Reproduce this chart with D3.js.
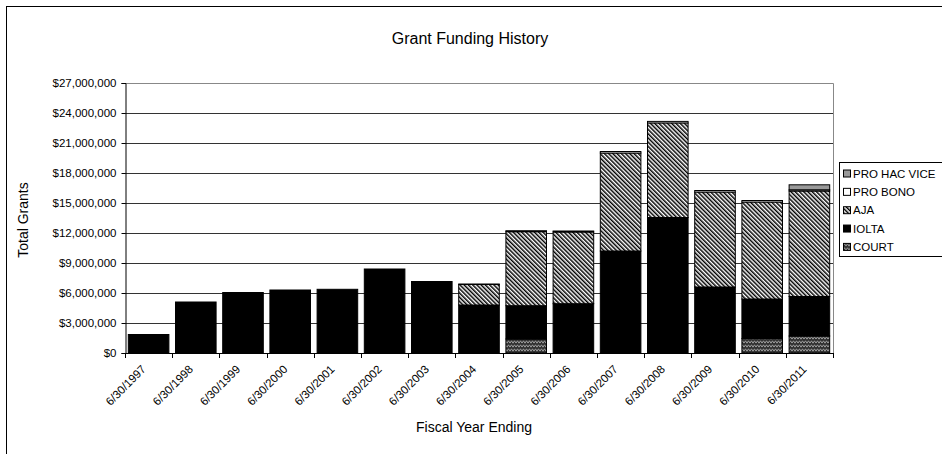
<!DOCTYPE html>
<html>
<head>
<meta charset="utf-8">
<script src="https://cdn.jsdelivr.net/npm/d3@7"></script>
<style>
  body { margin: 0; background: #fff; }
  text { font-family: "Liberation Sans", Arial, sans-serif; fill: #000; }
</style>
</head>
<body>
<script>
// fiscal years and grant amounts (dollars)
const years = ['6/30/1997', '6/30/1998', '6/30/1999', '6/30/2000', '6/30/2001', '6/30/2002', '6/30/2003', '6/30/2004',
  '6/30/2005', '6/30/2006', '6/30/2007', '6/30/2008', '6/30/2009', '6/30/2010', '6/30/2011'];
const court = [0, 0, 0, 0, 0, 0, 0, 0, 1400000, 0, 0, 0, 0, 1450000, 1700000];
const iolta = [1850000, 5100000, 6050000, 6300000, 6370000, 8400000, 7150000, 4800000, 3330000, 4930000, 10200000, 13550000, 6600000, 3950000, 3950000];
const aja = [0, 0, 0, 0, 0, 0, 0, 2050000, 7400000, 7170000, 9800000, 9460000, 9500000, 9700000, 10550000];
const proBono = [0, 0, 0, 0, 0, 0, 0, 50000, 100000, 100000, 150000, 150000, 150000, 150000, 120000];
const proHacVice = [0, 0, 0, 0, 0, 0, 0, 0, 0, 0, 0, 0, 0, 0, 500000];
const seriesNames = ['COURT', 'IOLTA', 'AJA', 'PRO BONO', 'PRO HAC VICE'];
const yTicks = [0, 3000000, 6000000, 9000000, 12000000, 15000000, 18000000, 21000000, 24000000, 27000000];

const W = 942, H = 454;
const plotL = 125, plotR = 833, plotT = 83, plotB = 353;

const svg = d3.select('body')
  .append('svg')
  .attr('width', W)
  .attr('height', H);

// patterns
const defs = svg.append('defs');
const hatch = defs.append('pattern')
  .attr('id', 'aja')
  .attr('width', 3).attr('height', 3)
  .attr('patternUnits', 'userSpaceOnUse')
  .attr('patternTransform', 'rotate(-45)');
hatch.append('rect').attr('width', 3).attr('height', 3).attr('fill', '#fff');
hatch.append('rect').attr('width', 1.5).attr('height', 3).attr('fill', '#000');

const wave = defs.append('pattern')
  .attr('id', 'court')
  .attr('width', 6).attr('height', 4)
  .attr('patternUnits', 'userSpaceOnUse');
wave.append('rect').attr('width', 6).attr('height', 4).attr('fill', '#2e2e2e');
wave.append('path')
  .attr('d', 'M0,3.2 L1.5,0.8 L3,3.2 L4.5,0.8 L6,3.2')
  .attr('fill', 'none')
  .attr('stroke', '#a8a8a8')
  .attr('stroke-width', 0.9);

const fills = {
  'COURT': 'url(#court)',
  'IOLTA': '#000',
  'AJA': 'url(#aja)',
  'PRO BONO': '#fff',
  'PRO HAC VICE': '#999'
};

// outer chart frame
svg.append('rect')
  .attr('x', 6.5).attr('y', 6.5)
  .attr('width', 950).attr('height', 460)
  .attr('fill', 'none')
  .attr('stroke', '#000');

const rows = years.map((yr, i) => ({
  year: yr,
  'COURT': court[i],
  'IOLTA': iolta[i],
  'AJA': aja[i],
  'PRO BONO': proBono[i],
  'PRO HAC VICE': proHacVice[i]
}));

const x = d3.scaleBand()
  .domain(years)
  .range([plotL, plotR])
  .paddingInner(0.14)
  .paddingOuter(0.07);

const y = d3.scaleLinear()
  .domain([0, 27000000])
  .range([plotB, plotT]);

// gridlines
svg.append('g')
  .selectAll('line')
  .data(yTicks.slice(1, -1))
  .enter()
  .append('line')
  .attr('x1', plotL).attr('x2', plotR)
  .attr('y1', d => Math.round(y(d)) + 0.5)
  .attr('y2', d => Math.round(y(d)) + 0.5)
  .attr('stroke', '#333');

// plot border (top, right)
svg.append('path')
  .attr('d', `M${plotL},${plotT + 0.5}H${plotR + 0.5}V${plotB}`)
  .attr('fill', 'none')
  .attr('stroke', '#888');

// stacked bars
const stacked = d3.stack().keys(seriesNames)(rows);
svg.append('g')
  .selectAll('g')
  .data(stacked)
  .enter()
  .append('g')
  .attr('fill', d => fills[d.key])
  .selectAll('rect')
  .data(d => d.filter(s => s[1] - s[0] > 0))
  .enter()
  .append('rect')
  .attr('x', d => x(d.data.year))
  .attr('y', d => y(d[1]))
  .attr('width', x.bandwidth())
  .attr('height', d => y(d[0]) - y(d[1]))
  .attr('stroke', '#000')
  .attr('stroke-width', 1);

// y axis
const yAxis = svg.append('g')
  .attr('transform', `translate(${plotL + 0.5},0)`)
  .call(d3.axisLeft(y).tickValues(yTicks).tickSize(4).tickPadding(5)
    .tickFormat(d => '$' + d3.format(',')(d)));
yAxis.select('.domain').attr('stroke', '#000');
yAxis.selectAll('text').style('font-size', '11.5px').attr('font-family', null);

// x axis: ticks between the bars, labels under bar centres
const step = x.step();
svg.append('line')
  .attr('x1', plotL).attr('x2', plotR)
  .attr('y1', plotB + 0.5).attr('y2', plotB + 0.5)
  .attr('stroke', '#000');
svg.append('g')
  .selectAll('line')
  .data(d3.range(years.length + 1))
  .enter()
  .append('line')
  .attr('x1', i => Math.round(plotL + i * step) + 0.5)
  .attr('x2', i => Math.round(plotL + i * step) + 0.5)
  .attr('y1', plotB)
  .attr('y2', plotB + 5)
  .attr('stroke', '#000');

svg.append('g')
  .selectAll('text')
  .data(years)
  .enter()
  .append('text')
  .attr('transform', d => `translate(${x(d) + x.bandwidth() / 2 - 2},${plotB + 17}) rotate(-45)`)
  .attr('text-anchor', 'end')
  .style('font-size', '11.5px')
  .text(d => d);

// titles
svg.append('text')
  .attr('x', 470).attr('y', 44)
  .attr('text-anchor', 'middle')
  .style('font-size', '16px')
  .text('Grant Funding History');

svg.append('text')
  .attr('x', 474).attr('y', 432)
  .attr('text-anchor', 'middle')
  .style('font-size', '14px')
  .text('Fiscal Year Ending');

svg.append('text')
  .attr('transform', 'translate(28,220) rotate(-90)')
  .attr('text-anchor', 'middle')
  .style('font-size', '14px')
  .text('Total Grants');

// legend
const legend = svg.append('g');
legend.append('rect')
  .attr('x', 839.5).attr('y', 162.5)
  .attr('width', 120).attr('height', 94)
  .attr('fill', '#fff')
  .attr('stroke', '#000');

const legendItems = seriesNames.slice().reverse();
const item = legend.selectAll('g.item')
  .data(legendItems)
  .enter()
  .append('g')
  .attr('class', 'item')
  .attr('transform', (d, i) => `translate(0,${173.5 + i * 18.35})`);
item.append('rect')
  .attr('x', 843.5).attr('y', -3.5)
  .attr('width', 7).attr('height', 7)
  .attr('fill', d => fills[d])
  .attr('stroke', '#000');
item.append('text')
  .attr('x', 853)
  .attr('y', 4)
  .style('font-size', '11.5px')
  .text(d => d);
</script>
</body>
</html>
